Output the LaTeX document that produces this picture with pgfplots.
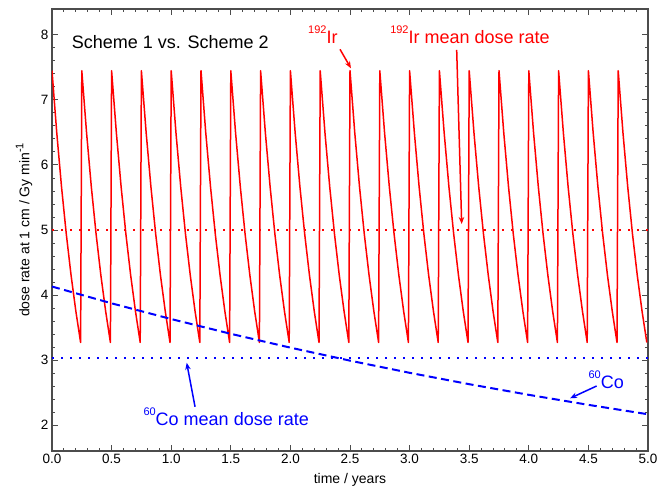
\documentclass[border=0pt]{standalone}
\usepackage{fontspec}
\setmainfont{Liberation Sans}
\usepackage{pgfplots}
\pgfplotsset{compat=1.18}
\usetikzlibrary{arrows.meta}
\newcommand{\iso}[1]{\raisebox{10pt}{\fontsize{11}{12}\selectfont #1}}
\begin{document}
\begin{tikzpicture}
\begin{axis}[
  scale only axis, width=596pt, height=442pt,
  xmin=0, xmax=5, ymin=1.6, ymax=8.4,
  xtick={0,0.5,1,1.5,2,2.5,3,3.5,4,4.5,5},
  ytick={2,3,4,5,6,7,8},
  xticklabel style={/pgf/number format/.cd, fixed, fixed zerofill, precision=1},
  minor x tick num=4, minor y tick num=4,
  tick align=inside, major tick length=6pt, minor tick length=3pt,
  axis line style={black!70, line width=1.3pt},
  every tick/.style={black!70, line width=1pt},
  tick label style={font=\fontsize{13.5}{15}\selectfont},
  /pgf/number format/assume math mode=true,
  xlabel={time / years},
  ylabel={dose rate at 1 cm / Gy min\iso{\raisebox{-4pt}{-1}}},
  xlabel style={font=\fontsize{14}{16}\selectfont, at={(rel axis cs:0.5,-0.066)}, anchor=center},
  ylabel style={font=\fontsize{14}{16}\selectfont, at={(rel axis cs:-0.047,0.5)}, anchor=center},
]
% Ir-192 sawtooth
\addplot[red, line width=1.5pt, line join=round] coordinates {
(0,7.45)(0.04,6.495)(0.08,5.662)(0.12,4.936)(0.16,4.303)(0.20,3.752)(0.24,3.270)
(0.25,7.45)(0.29,6.495)(0.33,5.662)(0.37,4.936)(0.41,4.303)(0.45,3.752)(0.49,3.270)
(0.50,7.45)(0.54,6.495)(0.58,5.662)(0.62,4.936)(0.66,4.303)(0.70,3.752)(0.74,3.270)
(0.75,7.45)(0.79,6.495)(0.83,5.662)(0.87,4.936)(0.91,4.303)(0.95,3.752)(0.99,3.270)
(1.00,7.45)(1.04,6.495)(1.08,5.662)(1.12,4.936)(1.16,4.303)(1.20,3.752)(1.24,3.270)
(1.25,7.45)(1.29,6.495)(1.33,5.662)(1.37,4.936)(1.41,4.303)(1.45,3.752)(1.49,3.270)
(1.50,7.45)(1.54,6.495)(1.58,5.662)(1.62,4.936)(1.66,4.303)(1.70,3.752)(1.74,3.270)
(1.75,7.45)(1.79,6.495)(1.83,5.662)(1.87,4.936)(1.91,4.303)(1.95,3.752)(1.99,3.270)
(2.00,7.45)(2.04,6.495)(2.08,5.662)(2.12,4.936)(2.16,4.303)(2.20,3.752)(2.24,3.270)
(2.25,7.45)(2.29,6.495)(2.33,5.662)(2.37,4.936)(2.41,4.303)(2.45,3.752)(2.49,3.270)
(2.50,7.45)(2.54,6.495)(2.58,5.662)(2.62,4.936)(2.66,4.303)(2.70,3.752)(2.74,3.270)
(2.75,7.45)(2.79,6.495)(2.83,5.662)(2.87,4.936)(2.91,4.303)(2.95,3.752)(2.99,3.270)
(3.00,7.45)(3.04,6.495)(3.08,5.662)(3.12,4.936)(3.16,4.303)(3.20,3.752)(3.24,3.270)
(3.25,7.45)(3.29,6.495)(3.33,5.662)(3.37,4.936)(3.41,4.303)(3.45,3.752)(3.49,3.270)
(3.50,7.45)(3.54,6.495)(3.58,5.662)(3.62,4.936)(3.66,4.303)(3.70,3.752)(3.74,3.270)
(3.75,7.45)(3.79,6.495)(3.83,5.662)(3.87,4.936)(3.91,4.303)(3.95,3.752)(3.99,3.270)
(4.00,7.45)(4.04,6.495)(4.08,5.662)(4.12,4.936)(4.16,4.303)(4.20,3.752)(4.24,3.270)
(4.25,7.45)(4.29,6.495)(4.33,5.662)(4.37,4.936)(4.41,4.303)(4.45,3.752)(4.49,3.270)
(4.50,7.45)(4.54,6.495)(4.58,5.662)(4.62,4.936)(4.66,4.303)(4.70,3.752)(4.74,3.270)
(4.75,7.45)(4.79,6.495)(4.83,5.662)(4.87,4.936)(4.91,4.303)(4.95,3.752)(4.99,3.270)
};
% Ir mean
\addplot[red, line width=2pt, dash pattern=on 2pt off 7pt] coordinates {(0,5.0)(5,5.0)};
% Co-60
\addplot[blue, line width=2pt, dash pattern=on 8pt off 4.5pt] coordinates {
(0,4.13)(0.5,3.872)(1.0,3.630)(1.5,3.403)(2.0,3.190)(2.5,2.990)(3.0,2.803)(3.5,2.628)(4.0,2.464)(4.5,2.310)(5.0,2.165)};
% Co mean
\addplot[blue, line width=2pt, dash pattern=on 2pt off 7pt] coordinates {(0,3.03)(5,3.03)};
% annotations
\node[anchor=base west, inner sep=0pt, font=\fontsize{18}{20}\selectfont] at (axis cs:0.165,7.795) {Scheme 1 vs. Scheme 2};
\node[anchor=base west, inner sep=0pt, red, font=\fontsize{18}{20}\selectfont] at (axis cs:2.148,7.862) {\iso{192}Ir};
\node[anchor=base west, inner sep=0pt, red, font=\fontsize{18}{20}\selectfont] at (axis cs:2.836,7.862) {\iso{192}Ir mean dose rate};
\node[anchor=base west, inner sep=0pt, blue, font=\fontsize{18}{20}\selectfont] at (axis cs:0.766,2.0) {\iso{60}Co mean dose rate};
\node[anchor=base west, inner sep=0pt, blue, font=\fontsize{18}{20}\selectfont] at (axis cs:4.50,2.565) {\iso{60}Co};
\draw[red, line width=1.5pt, -{Stealth[length=7pt,width=5.5pt]}] (axis cs:2.416,7.78) -- (axis cs:2.508,7.488);
\draw[red, line width=1.5pt, -{Stealth[length=7pt,width=5.5pt]}] (axis cs:3.395,7.77) -- (axis cs:3.437,5.092);
\draw[blue, line width=1.5pt, -{Stealth[length=7pt,width=5.5pt]}] (axis cs:1.20,2.28) -- (axis cs:1.13,2.958);
\draw[blue, line width=1.5pt, -{Stealth[length=7pt,width=5.5pt]}] (axis cs:4.569,2.60) -- (axis cs:4.346,2.411);
\coordinate (ll) at (rel axis cs:0,0);
\coordinate (ur) at (rel axis cs:1,1);
\end{axis}
\pgfresetboundingbox
\path ([shift={(-52pt,-41pt)}]ll) rectangle ([shift={(11pt,9pt)}]ur);
\end{tikzpicture}
\end{document}
